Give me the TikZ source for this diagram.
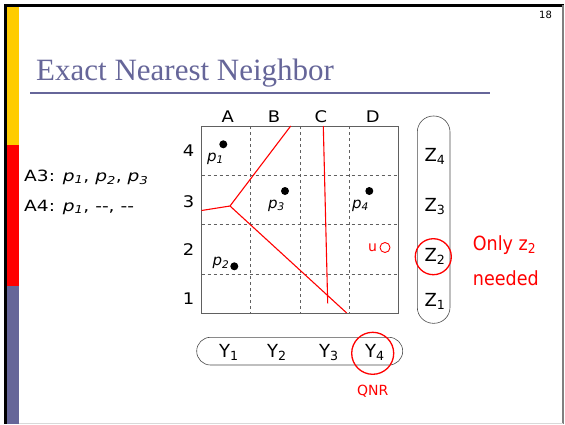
\documentclass[tikz,border=0pt]{standalone}
\usepackage{fontspec}
\setmainfont{DejaVu Sans}
\newfontfamily\titlefont{Liberation Serif}
\newfontfamily\lblfont[FakeStretch=1.12]{DejaVu Sans}
\newfontfamily\leftfont[FakeStretch=1.2]{DejaVu Sans}
\newfontfamily\redfont[FakeStretch=0.9]{DejaVu Sans}
\definecolor{slidepurple}{HTML}{666699}
\definecolor{slideyellow}{HTML}{FFCC00}
\definecolor{gridgray}{HTML}{606060}
\begin{document}
\begin{tikzpicture}[x=1pt,y=-1pt,
  lbl/.style={font=\lblfont\fontsize{16}{18}\selectfont, inner sep=0pt},
  zy/.style={font=\fontsize{18}{20}\selectfont, inner sep=0pt},
  plbl/.style={font=\fontsize{15}{17}\selectfont\itshape, inner sep=0pt},
  lefttxt/.style={font=\leftfont\fontsize{15.5}{18}\selectfont, inner sep=0pt, anchor=base west},
  redtxt/.style={font=\redfont\fontsize{19.5}{22}\selectfont, text=red, inner sep=0pt},
  dot/.style={circle, fill=black, inner sep=0pt, minimum size=8pt},
  redline/.style={red, line width=1.1pt},
  ringred/.style={draw=red, line width=1.3pt, circle, inner sep=0pt},
  pill/.style={draw=black!70, line width=0.6pt, rounded corners=16pt}]
\useasboundingbox (0,0) rectangle (565,424);
% slide frame
\fill[white] (0,0) rectangle (565,424);
\fill[black] (4,4) rectangle (564,6.5);
\fill[black] (4,4) rectangle (7,424);
\draw[gray, line width=1.2pt] (563,5) -- (563,424);
\draw[black!15, line width=1pt] (7,423) -- (563,423);
\fill[slideyellow] (7,6.5) rectangle (19,145);
\fill[red] (7,145) rectangle (19,285.5);
\fill[slidepurple] (7,285.5) rectangle (19,424);
\node[font=\fontsize{10}{12}\selectfont, inner sep=0pt] (pg) at (545.5,15) {18};
% title
\node[anchor=base west, text=slidepurple, inner sep=0pt, font=\titlefont\fontsize{31}{36}\selectfont] (title) at (36,80) {Exact Nearest Neighbor};
\draw[slidepurple, line width=2pt] (30,92.7) -- (490,92.7);
% left text
\node[lefttxt] (a3) at (24,181) {A3: \textit{p\textsubscript{1}}, \textit{p\textsubscript{2}}, \textit{p\textsubscript{3}}};
\node[lefttxt] (a4) at (24,211) {A4: \textit{p\textsubscript{1}}, -{}-, -{}-};
% grid
\draw[gridgray, dashed, line width=0.5pt] (250.3,126) -- (250.3,313) (300,126) -- (300,313) (349.3,126) -- (349.3,313)
  (201.5,175) -- (398,175) (201.5,224.3) -- (398,224.3) (201.5,274) -- (398,274);
\draw[gridgray, line width=0.7pt] (201.5,126) rectangle (398,313);
\node[lbl] (cA) at (227.7,117) {A};
\node[lbl] (cB) at (274,117) {B};
\node[lbl] (cC) at (321,117) {C};
\node[lbl] (cD) at (372.7,117) {D};
\node[lbl] (r4) at (188.5,151) {4};
\node[lbl] (r3) at (188.5,202) {3};
\node[lbl] (r2) at (188.5,250) {2};
\node[lbl] (r1) at (188.5,299) {1};
% voronoi lines
\coordinate (jn) at (230,206);
\coordinate (lft) at (201.5,210.5);
\coordinate (tp1) at (290.7,126);
\coordinate (bt1) at (346.7,313);
\coordinate (tp2) at (323.3,126);
\coordinate (mid) at (327.7,303.3);
\draw[redline] (lft) -- (jn) -- (tp1);
\draw[redline] (jn) -- (bt1);
\draw[redline] (tp2) -- (mid);
% points
\node[dot] (p1) at (223.3,144.3) {};
\node[dot] (p3) at (285,191) {};
\node[dot] (p4) at (369.3,191) {};
\node[dot] (p2) at (234.3,266.3) {};
\node[plbl] (lp1) at (215.5,158.5) {p\textsubscript{1}};
\node[plbl] (lp3) at (276.5,205.5) {p\textsubscript{3}};
\node[plbl] (lp4) at (360.5,205.5) {p\textsubscript{4}};
\node[plbl] (lp2) at (221,263) {p\textsubscript{2}};
\node[redtxt, font=\fontsize{14}{16}\selectfont] (u) at (372.5,247.5) {u};
\node[circle, draw=red, line width=0.9pt, minimum size=10pt, inner sep=0pt] (q) at (385,247.5) {};
% Z pill
\draw[pill] (417.3,116) rectangle (450,323.3);
\node[zy] (z4) at (435,156.7) {Z\textsubscript{4}};
\node[zy] (z3) at (435,206.7) {Z\textsubscript{3}};
\node[zy] (z2) at (435,256.3) {Z\textsubscript{2}};
\node[zy] (z1) at (435,301.7) {Z\textsubscript{1}};
\node[ringred, minimum size=36pt] (z2ring) at (433.3,256.7) {};
\node[redtxt, anchor=west] (only) at (472.7,245) {Only z\textsubscript{2}};
\node[redtxt, anchor=west] (need) at (472.7,278) {needed};
% Y pill
\draw[pill, rounded corners=13.8pt] (196.7,337.3) rectangle (402.7,365);
\node[zy] (y1) at (229,352.7) {Y\textsubscript{1}};
\node[zy] (y2) at (277,352.7) {Y\textsubscript{2}};
\node[zy] (y3) at (329,352.7) {Y\textsubscript{3}};
\node[zy] (y4) at (375,352.7) {Y\textsubscript{4}};
\node[ringred, minimum size=42pt] (y4ring) at (372.7,353.3) {};
\node[redtxt, font=\fontsize{14}{16}\selectfont] (qnr) at (372.7,391) {QNR};
\end{tikzpicture}
\end{document}
